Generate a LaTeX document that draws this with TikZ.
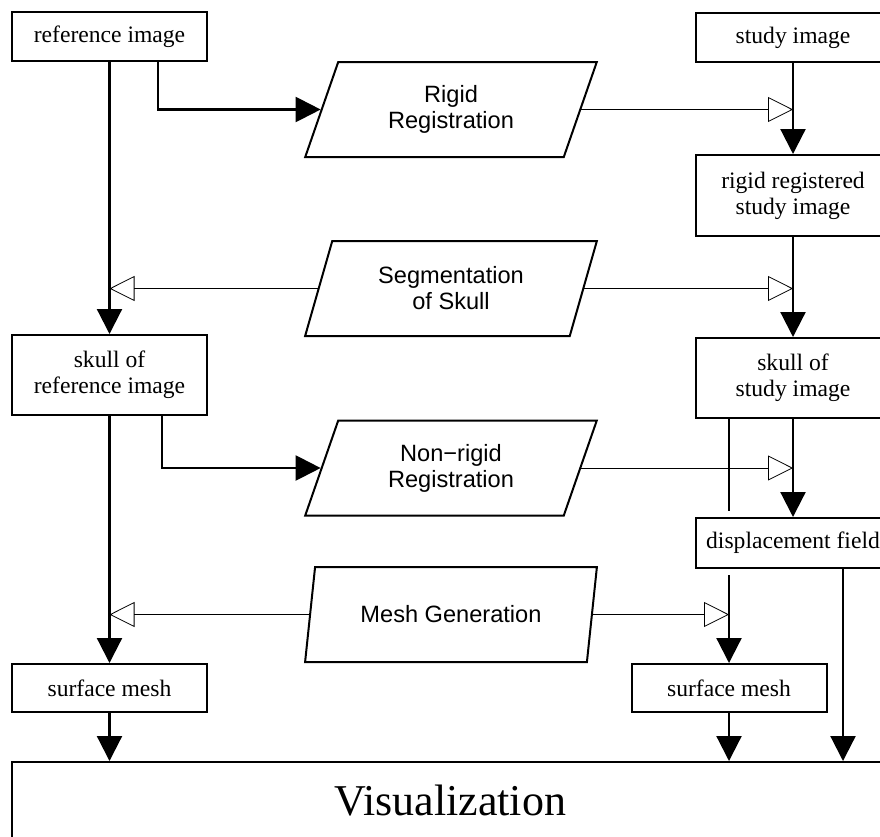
\documentclass[tikz,border=0pt]{standalone}
\usepackage{fontspec}
\setmainfont{Liberation Serif}
\setsansfont{Liberation Sans}
\usetikzlibrary{arrows.meta,shapes.geometric}
\begin{document}
\begin{tikzpicture}[x=1pt,y=-1pt,
  box/.style={draw, line width=2pt, minimum width=195pt, align=center,
    font=\fontsize{23.6}{26}\selectfont, inner sep=0pt, fill=white},
  proc/.style={trapezium, draw, line width=2pt, trapezium left angle=69,
    trapezium right angle=111, trapezium stretches=true,
    minimum width=292pt, minimum height=95pt, align=center,
    font=\sffamily\fontsize{23.6}{26}\selectfont, inner sep=0pt},
  flow/.style={line width=2.2pt, -{Triangle[length=25pt,width=25pt]}},
  ctrl/.style={line width=0.8pt, -{Triangle[open,length=25pt,width=25pt]}},
]
\useasboundingbox (0,0) rectangle (880,836);
\clip (0,0) rectangle (880,836);

\node[box, minimum height=49pt] (ref) at (109.5,36.5) {reference image};
\node[box, minimum height=49pt] (study) at (793,37.5) {study image};
\node[proc] (rigid) at (451,109.5) {Rigid\\Registration};
\node[box, minimum height=81pt] (rstudy) at (793,195.5) {rigid registered\\study image};
\node[proc] (seg) at (451,288.5) {Segmentation\\of Skull};
\node[box, minimum height=80pt] (skref) at (109.5,375) {skull of\\reference image};
\node[box, minimum height=80pt] (skstudy) at (793,378) {skull of\\study image};
\node[proc] (nonrigid) at (451,468) {Non−rigid\\Registration};
\node[proc] (mesh) at (451,614.5) {Mesh Generation};
\node[box, minimum height=48pt] (sref) at (109.5,688) {surface mesh};
\node[box, minimum height=48pt] (sstudy) at (729,688) {surface mesh};
\node[draw, line width=2pt, minimum width=876pt, minimum height=78pt, anchor=north,
  inner sep=0pt, font=\fontsize{44}{48}\selectfont] (vis) at (450,761) {Visualization};

% line passing behind the displacement field box
\draw[flow] (skstudy.south -| sstudy.north) -- (sstudy.north);
\node[box, minimum height=50pt, preaction={draw=white, line width=14pt}] (disp) at (793,543) {displacement field};

% main flow
\draw[flow] (ref.south) -- (skref.north);
\draw[flow] ([xshift=48.5pt]ref.south) |- (rigid.left side);
\draw[flow] (study.south) -- (rstudy.north);
\draw[flow] (rstudy.south) -- (skstudy.north);
\draw[flow] (skref.south) -- (sref.north);
\draw[flow] ([xshift=52.5pt]skref.south) |- (nonrigid.left side);
\draw[flow] (skstudy.south) -- (disp.north);
\draw[flow] (sref.south) -- (sref.south |- vis.north);
\draw[flow] (sstudy.south) -- (sstudy.south |- vis.north);
\draw[flow] ([xshift=50pt]disp.south) -- ([xshift=50pt]disp.south |- vis.north);

% control inputs
\draw[ctrl] (rigid.right side) -- (rigid.right side -| study.south);
\draw[ctrl] (seg.left side) -- (seg.left side -| ref.south);
\draw[ctrl] (seg.right side) -- (seg.right side -| study.south);
\draw[ctrl] (nonrigid.right side) -- (nonrigid.right side -| study.south);
\draw[ctrl] (mesh.left side) -- (mesh.left side -| ref.south);
\draw[ctrl] (mesh.right side) -- (mesh.right side -| sstudy.north);
\end{tikzpicture}
\end{document}
